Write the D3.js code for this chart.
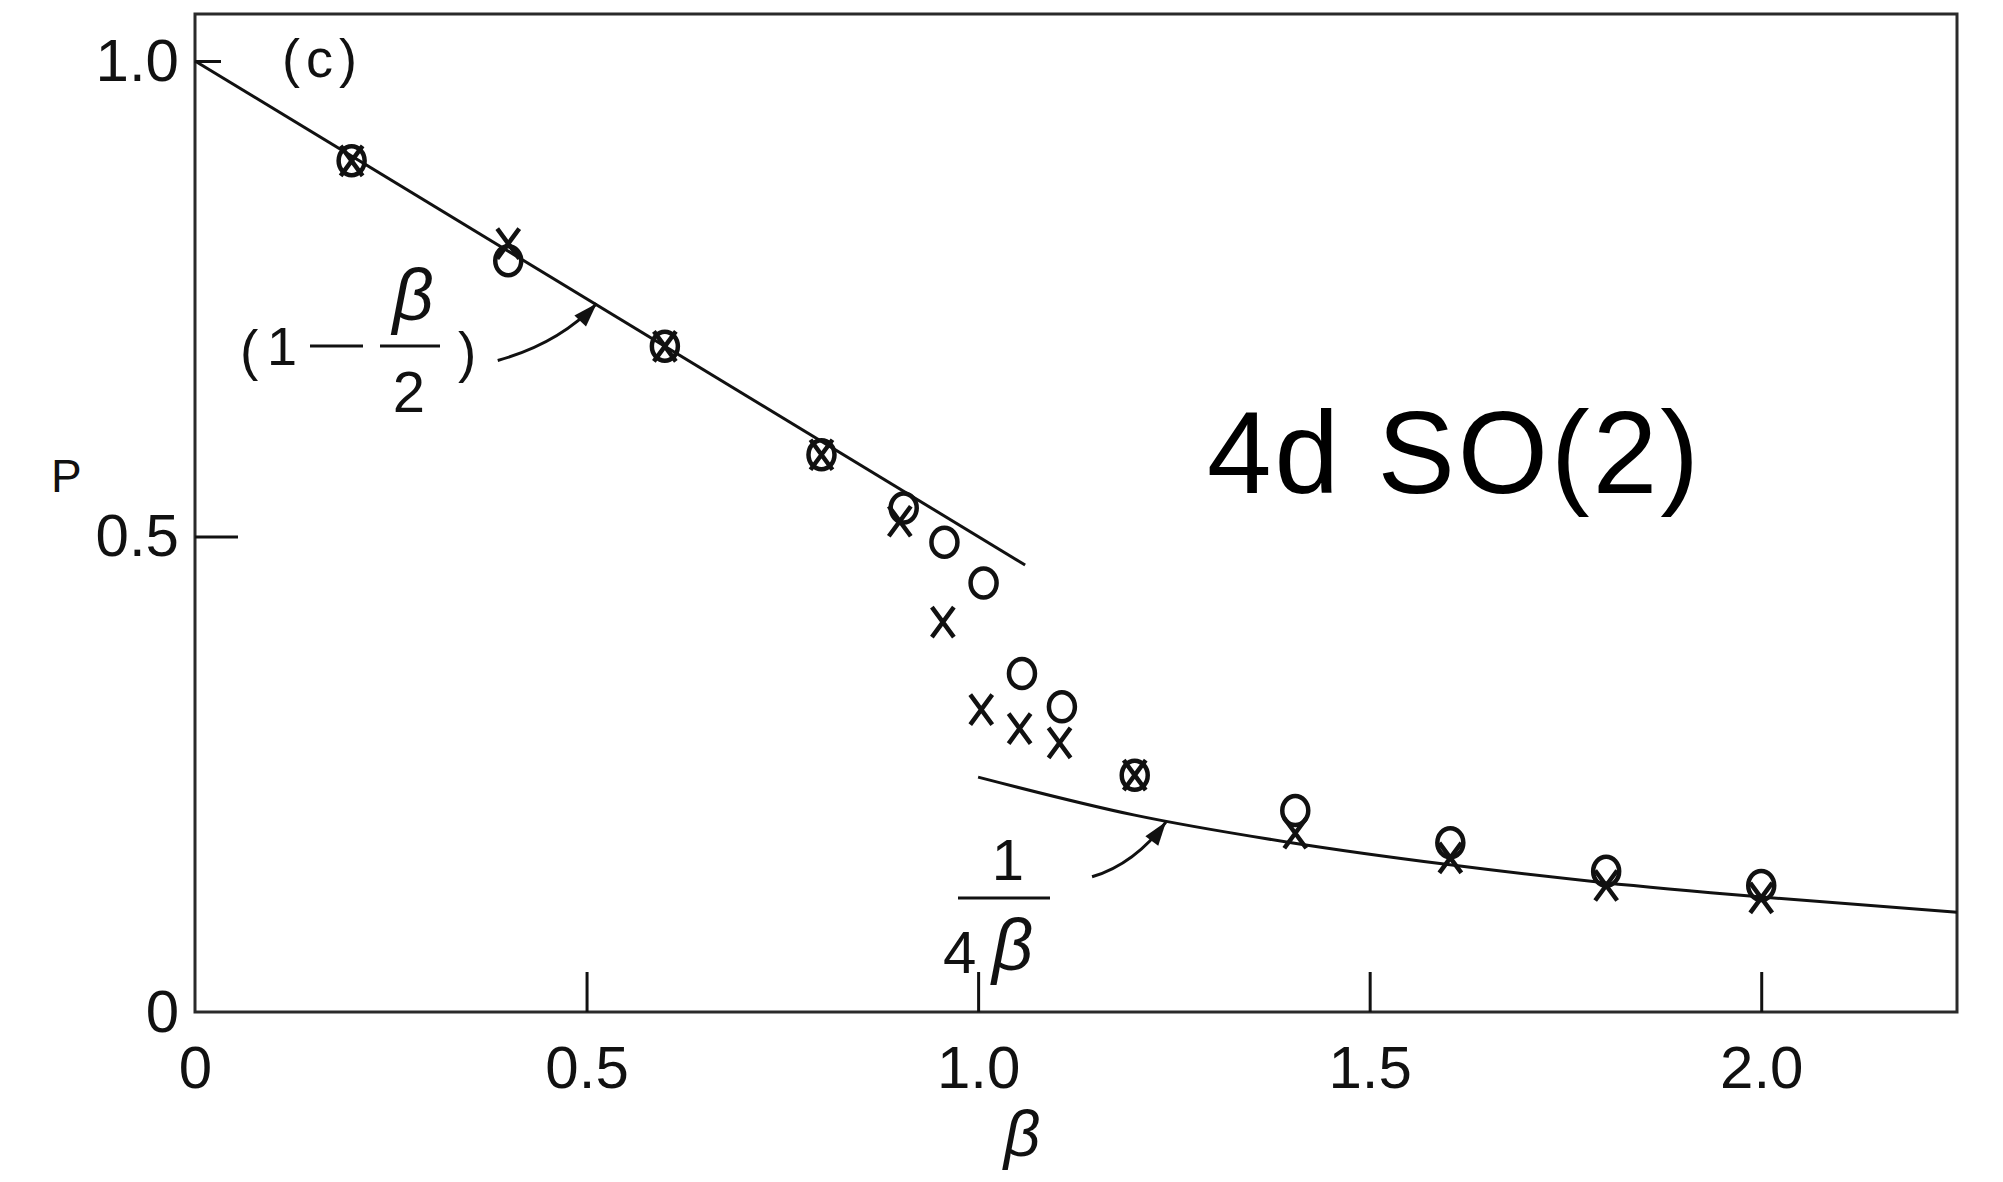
<!DOCTYPE html>
<html>
<head>
<meta charset="utf-8">
<script src="https://cdn.jsdelivr.net/npm/d3@7"></script>
<style>
  body { margin: 0; background: #fff; }
  svg { display: block; }
</style>
</head>
<body>
<div id="chart"></div>
<script>
const width = 2003;
const height = 1182;

// Monte Carlo points (o and x symbols)
const betaCircle = [0.2, 0.4, 0.6, 0.8, 0.905, 0.957, 1.007, 1.056, 1.107, 1.2, 1.405, 1.603, 1.802, 2.0];
const pCircle    = [0.895, 0.79, 0.70, 0.586, 0.53, 0.494, 0.451, 0.356, 0.321, 0.249, 0.212, 0.178, 0.148, 0.133];
const betaCross  = [0.2, 0.4, 0.6, 0.8, 0.9, 0.955, 1.004, 1.053, 1.104, 1.2, 1.405, 1.603, 1.802, 2.0];
const pCross     = [0.895, 0.808, 0.70, 0.586, 0.516, 0.41, 0.318, 0.298, 0.283, 0.249, 0.188, 0.162, 0.133, 0.12];

// strong coupling line (1 - beta/2) and weak coupling curve 1/(4 beta), as drawn
const lineBeta  = [0, 1.06];
const lineP     = [1.0, 0.47];
const curveBeta = [1.0, 1.2, 1.4, 1.6, 1.8, 2.0, 2.25];
const curveP    = [0.247, 0.207, 0.178, 0.155, 0.136, 0.121, 0.105];

// axes
const xTicks = [0, 0.5, 1.0, 1.5, 2.0];
const xTickLabels = ["0", "0.5", "1.0", "1.5", "2.0"];
const yTicks = [0, 0.5, 1.0];
const yTickLabels = ["0", "0.5", "1.0"];

const ink = "#111";
const labelFont = "'Liberation Sans', Arial, sans-serif";

const x = d3.scaleLinear().domain([0, 2.25]).range([195, 1957]);
const y = d3.scaleLinear().domain([0, 1]).range([1012, 61]);

const svg = d3.select("#chart")
    .append("svg")
    .attr("width", width)
    .attr("height", height)
    .style("background", "#fff");

// frame
svg.append("rect")
    .attr("x", x(0))
    .attr("y", 14)
    .attr("width", x(2.25) - x(0))
    .attr("height", y(0) - 14)
    .attr("fill", "none")
    .attr("stroke", "#2a2a2a")
    .attr("stroke-width", 3);

// x axis, ticks pointing inwards
svg.append("g")
    .attr("transform", `translate(0,${y(0)})`)
    .call(d3.axisBottom(x)
        .tickValues(xTicks)
        .tickFormat((d, i) => xTickLabels[i])
        .tickSizeInner(-40)
        .tickSizeOuter(0)
        .tickPadding(33))
    .call(g => g.select(".domain").remove())
    .call(g => g.selectAll("line")
        .attr("stroke", ink)
        .attr("stroke-width", 3)
        .attr("y2", d => d === 0 ? 0 : -40))
    .call(g => g.selectAll("text")
        .attr("fill", ink)
        .style("font-family", labelFont)
        .style("font-size", "60px"));

// y axis
svg.append("g")
    .attr("transform", `translate(${x(0)},0)`)
    .call(d3.axisLeft(y)
        .tickValues(yTicks)
        .tickFormat((d, i) => yTickLabels[i])
        .tickSizeInner(-43)
        .tickSizeOuter(0)
        .tickPadding(16))
    .call(g => g.select(".domain").remove())
    .call(g => g.selectAll("line")
        .attr("stroke", ink)
        .attr("stroke-width", 3)
        .attr("x2", d => d === 1 ? 26 : (d === 0 ? 0 : 43)))
    .call(g => g.selectAll("text")
        .attr("fill", ink)
        .style("font-family", labelFont)
        .style("font-size", "60px"));

// axis titles
svg.append("text")
    .attr("x", 51)
    .attr("y", 492)
    .attr("fill", ink)
    .style("font-family", labelFont)
    .style("font-size", "46px")
    .text("P");

svg.append("text")
    .attr("x", x(1.056))
    .attr("y", 1156)
    .attr("text-anchor", "middle")
    .attr("fill", ink)
    .style("font-family", labelFont)
    .style("font-style", "italic")
    .style("font-size", "64px")
    .text("β");

svg.append("text")
    .attr("x", 282)
    .attr("y", 77)
    .attr("fill", ink)
    .style("font-family", labelFont)
    .style("font-size", "54px")
    .style("letter-spacing", "6px")
    .text("(c)");

// lines
const line = d3.line()
    .x(d => x(d[0]))
    .y(d => y(d[1]));

svg.append("path")
    .datum(d3.zip(lineBeta, lineP))
    .attr("d", line)
    .attr("fill", "none")
    .attr("stroke", ink)
    .attr("stroke-width", 3);

svg.append("path")
    .datum(d3.zip(curveBeta, curveP))
    .attr("d", line.curve(d3.curveMonotoneX))
    .attr("fill", "none")
    .attr("stroke", ink)
    .attr("stroke-width", 3);

// data symbols
svg.append("g")
    .selectAll("ellipse")
    .data(d3.zip(betaCircle, pCircle))
    .enter().append("ellipse")
    .attr("cx", d => x(d[0]))
    .attr("cy", d => y(d[1]))
    .attr("rx", 13)
    .attr("ry", 14.5)
    .attr("fill", "none")
    .attr("stroke", ink)
    .attr("stroke-width", 4.5);

svg.append("g")
    .selectAll("path")
    .data(d3.zip(betaCross, pCross))
    .enter().append("path")
    .attr("d", d => {
        const cx = x(d[0]), cy = y(d[1]);
        return `M${cx - 11},${cy - 15}L${cx + 11},${cy + 15}M${cx + 11},${cy - 15}L${cx - 11},${cy + 15}`;
    })
    .attr("fill", "none")
    .attr("stroke", ink)
    .attr("stroke-width", 4.5);

// curved arrows pointing at the two curves
function arrow(tipBeta, tipP, tail, ctrl) {
    const tx = x(tipBeta), ty = y(tipP);
    const sx = tx + tail[0], sy = ty + tail[1];
    const cx = tx + ctrl[0], cy = ty + ctrl[1];
    svg.append("path")
        .attr("d", `M${sx},${sy}Q${cx},${cy} ${tx},${ty}`)
        .attr("fill", "none")
        .attr("stroke", ink)
        .attr("stroke-width", 3);
    const a = Math.atan2(ty - cy, tx - cx);
    const len = 24, half = 8;
    const bx = tx - len * Math.cos(a), by = ty - len * Math.sin(a);
    svg.append("path")
        .attr("d", `M${tx},${ty}L${bx - half * Math.sin(a)},${by + half * Math.cos(a)}L${bx + half * Math.sin(a)},${by - half * Math.cos(a)}Z`)
        .attr("fill", ink);
}
arrow(0.513, 0.745, [-99, 57], [-38, 40]);
arrow(1.24, 0.2, [-74, 55], [-31, 42]);

// (1 - beta/2) label
const f1 = svg.append("g")
    .attr("fill", ink)
    .style("font-family", labelFont);
f1.append("text").attr("x", 240).attr("y", 369).style("font-size", "55px").text("(");
f1.append("text").attr("x", 282).attr("y", 365).attr("text-anchor", "middle")
    .style("font-size", "54px").text("1");
f1.append("line").attr("x1", 310).attr("x2", 363).attr("y1", 346).attr("y2", 346)
    .attr("stroke", ink).attr("stroke-width", 3);
f1.append("line").attr("x1", 380).attr("x2", 440).attr("y1", 346).attr("y2", 346)
    .attr("stroke", ink).attr("stroke-width", 3);
f1.append("text").attr("x", 413).attr("y", 320).attr("text-anchor", "middle")
    .style("font-size", "72px").style("font-style", "italic").text("β");
f1.append("text").attr("x", 409).attr("y", 412).attr("text-anchor", "middle")
    .style("font-size", "58px").text("2");
f1.append("text").attr("x", 458).attr("y", 371).style("font-size", "55px").text(")");

// 1/(4 beta) label
const f2 = svg.append("g")
    .attr("fill", ink)
    .style("font-family", labelFont);
f2.append("text").attr("x", 1008).attr("y", 880).attr("text-anchor", "middle")
    .style("font-size", "58px").text("1");
f2.append("line").attr("x1", 958).attr("x2", 1050).attr("y1", 898).attr("y2", 898)
    .attr("stroke", ink).attr("stroke-width", 3);
f2.append("text").attr("x", 943).attr("y", 973).style("font-size", "60px").text("4");
f2.append("text").attr("x", 992).attr("y", 970).style("font-size", "72px")
    .style("font-style", "italic").text("β");

// model label
svg.append("text")
    .attr("x", 1207)
    .attr("y", 493)
    .attr("fill", "#000")
    .attr("textLength", 492)
    .style("font-family", "'Liberation Sans', Arial, sans-serif")
    .style("font-size", "116px")
    .text("4d SO(2)");
</script>
</body>
</html>
